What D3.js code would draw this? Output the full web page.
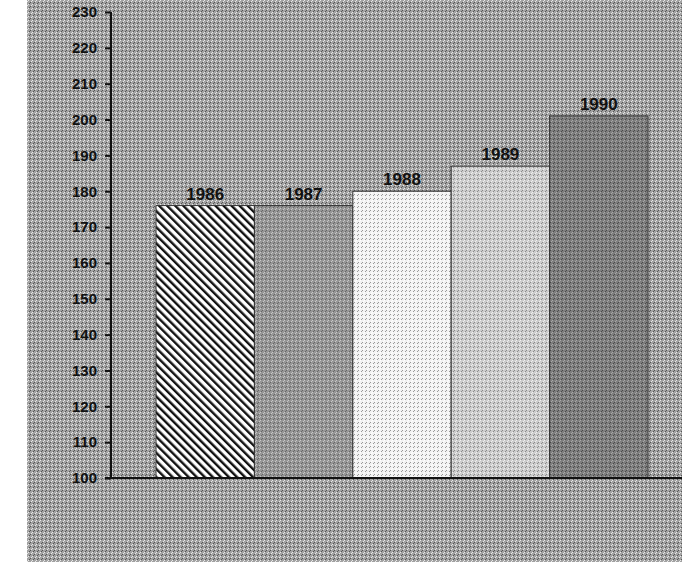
<!DOCTYPE html>
<html>
<head>
<meta charset="utf-8">
<script src="https://cdn.jsdelivr.net/npm/d3@7"></script>
<style>
  html, body { margin: 0; padding: 0; background: #fff; }
  svg text { font-family: "Liberation Sans", Arial, sans-serif; font-weight: bold; }
</style>
</head>
<body>
<div id="chartContainer"></div>
<script>
// Chart size
const width = 682;
const height = 562;

// Data
const years = ["1986", "1987", "1988", "1989", "1990"];
const values = [176, 176, 180, 187, 201];
const yTicks = [100, 110, 120, 130, 140, 150, 160, 170, 180, 190, 200, 210, 220, 230];
const fills = ["url(#hatch)", "url(#dots87)", "url(#dots88)", "url(#dots89)", "url(#dots90)"];

const svg = d3.select("#chartContainer")
  .append("svg")
  .attr("width", width)
  .attr("height", height);

const defs = svg.append("defs");

// diagonal hatch for 1986
const hatch = defs.append("pattern")
  .attr("id", "hatch")
  .attr("patternUnits", "userSpaceOnUse")
  .attr("width", 5.7)
  .attr("height", 5.7)
  .attr("patternTransform", "rotate(-45)");
hatch.append("rect").attr("width", 5.7).attr("height", 5.7).attr("fill", "#fff");
hatch.append("rect").attr("width", 2.4).attr("height", 5.7).attr("fill", "#111");

// simple dither patterns (base colour + a couple of pixels)
function dither(id, base, light, dark) {
  const p = defs.append("pattern")
    .attr("id", id)
    .attr("patternUnits", "userSpaceOnUse")
    .attr("width", 4)
    .attr("height", 4);
  p.append("rect").attr("width", 4).attr("height", 4).attr("fill", base);
  p.append("rect").attr("x", 0).attr("y", 0).attr("width", 1).attr("height", 1).attr("fill", light);
  p.append("rect").attr("x", 2).attr("y", 2).attr("width", 1).attr("height", 1).attr("fill", dark);
  p.append("rect").attr("x", 3).attr("y", 1).attr("width", 1).attr("height", 1).attr("fill", light);
  p.append("rect").attr("x", 1).attr("y", 3).attr("width", 1).attr("height", 1).attr("fill", dark);
}
dither("bg", "#a2a2a2", "#e8e8e8", "#555");
dither("dots87", "#969696", "#c8c8c8", "#666");
dither("dots88", "#f2f2f2", "#ffffff", "#999");
dither("dots89", "#cccccc", "#f0f0f0", "#8a8a8a");
dither("dots90", "#7e7e7e", "#a8a8a8", "#4a4a4a");

// background
svg.append("rect")
  .attr("x", 27).attr("y", 0)
  .attr("width", width - 27).attr("height", height)
  .attr("fill", "url(#bg)");

// scales
const x = d3.scaleBand()
  .domain(years)
  .range([156, 648])
  .padding(0);

const y = d3.scaleLinear()
  .domain([100, 230])
  .range([478, 12]);

const data = years.map((yr, i) => ({ year: yr, value: values[i] }));

// bars
svg.selectAll(".bar")
  .data(data)
  .enter()
  .append("rect")
  .attr("class", "bar")
  .attr("x", d => x(d.year))
  .attr("y", d => y(d.value))
  .attr("width", x.bandwidth())
  .attr("height", d => y(100) - y(d.value))
  .attr("fill", (d, i) => fills[i])
  .attr("stroke", "#333")
  .attr("stroke-width", 1);

// bar labels
svg.selectAll(".label")
  .data(data)
  .enter()
  .append("text")
  .attr("class", "label")
  .attr("x", d => x(d.year) + x.bandwidth() / 2)
  .attr("y", d => y(d.value) - 6)
  .attr("text-anchor", "middle")
  .attr("font-size", 17)
  .attr("fill", "#111")
  .text(d => d.year);

// y axis
const yAxis = svg.append("g")
  .attr("transform", "translate(111, 0)")
  .call(d3.axisLeft(y).tickValues(yTicks).tickSize(6).tickPadding(8));
yAxis.attr("font-size", 15);
yAxis.select(".domain").attr("stroke", "#111").attr("stroke-width", 2).attr("d", `M0,${y(230)}V${y(100)}`);
yAxis.selectAll(".tick line").attr("stroke", "#111").attr("stroke-width", 2);
yAxis.selectAll(".tick text").attr("font-size", 15).attr("fill", "#111");

// baseline
svg.append("line")
  .attr("x1", 105).attr("x2", width)
  .attr("y1", y(100)).attr("y2", y(100))
  .attr("stroke", "#111")
  .attr("stroke-width", 2);
</script>
</body>
</html>
